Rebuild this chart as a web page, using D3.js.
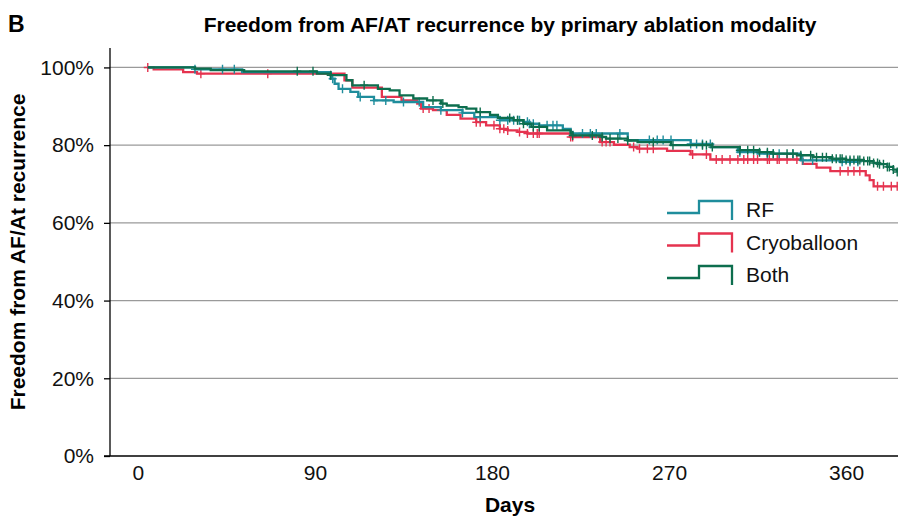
<!DOCTYPE html>
<html>
<head>
<meta charset="utf-8">
<script src="https://cdn.jsdelivr.net/npm/d3@7"></script>
<style>
  body { margin: 0; background: #fff; }
  svg { display: block; font-family: "Liberation Sans", Arial, sans-serif; }
</style>
</head>
<body>
<div id="chart"></div>
<script>
// step data: day of each drop and survival (%) after it
const rfDays = [5, 29, 53, 98, 100, 102, 108, 112, 120, 130, 145, 154, 165, 171, 184, 196, 199, 204, 216, 220, 221, 249, 281, 292, 305, 315, 337, 357]
const rfSurv = [100, 99.5, 98.8, 97.1, 95.8, 94.5, 93.7, 92.4, 91.5, 91.1, 89.8, 89.0, 88.3, 87.2, 86.4, 86.0, 85.5, 85.1, 84.2, 83.4, 83.0, 81.3, 80.3, 79.5, 78.2, 77.8, 76.1, 75.7]
const rfCensor = [29, 43, 49, 99, 104, 113, 120, 126, 135, 143, 154, 165, 174, 184, 188, 191, 193, 194, 198, 199, 201, 208, 211, 213, 226, 230, 233, 245, 260, 264, 267, 271, 281, 284, 287, 291, 306, 320, 323, 326, 333, 338, 343, 358, 362, 366]

const cryoDays = [5, 8, 23, 30, 105, 109, 124, 134, 142, 144, 150, 157, 164, 172, 177, 184, 188, 193, 198, 220, 235, 242, 250, 254, 269, 281, 291, 338, 345, 352, 370, 372, 374]
const cryoSurv = [100, 99.5, 98.8, 98.4, 96.7, 94.8, 92.4, 91.5, 90.7, 89.4, 89.0, 87.8, 86.8, 85.9, 85.1, 84.2, 83.8, 83.4, 83.0, 82.1, 80.8, 80.1, 79.5, 79.1, 78.5, 77.6, 76.3, 75.2, 74.2, 73.3, 72.2, 71.0, 69.4]
const cryoCensor = [5, 32, 66, 145, 148, 172, 174, 181, 184, 186, 188, 194, 198, 201, 203, 204, 220, 221, 236, 238, 240, 252, 255, 259, 262, 282, 289, 294, 297, 301, 305, 308, 310, 313, 315, 320, 321, 325, 326, 330, 335, 357, 361, 364, 367, 376, 379, 383, 386]

const bothDays = [5, 29, 37, 54, 91, 98, 106, 109, 122, 128, 133, 140, 147, 154, 157, 163, 167, 172, 179, 183, 191, 196, 200, 208, 220, 221, 236, 238, 249, 254, 271, 292, 306, 316, 323, 335, 343, 353, 360, 369, 374, 377, 381, 384, 386]
const bothSurv = [100, 99.7, 99.3, 99.0, 98.4, 98.0, 96.7, 95.4, 94.5, 94.1, 92.8, 92.0, 91.5, 90.7, 90.2, 89.8, 89.4, 88.5, 87.8, 87.0, 86.4, 85.5, 84.7, 83.8, 83.0, 82.5, 82.1, 81.7, 81.2, 80.8, 80.0, 79.5, 78.7, 78.2, 77.8, 77.4, 76.9, 76.5, 76.2, 75.9, 75.4, 75.1, 74.4, 73.7, 73.1]
const bothCensor = [81, 89, 98, 115, 150, 155, 174, 189, 193, 196, 201, 204, 221, 231, 236, 240, 244, 249, 262, 272, 287, 289, 292, 306, 310, 313, 316, 320, 323, 330, 333, 337, 342, 345, 348, 350, 353, 355, 357, 358, 360, 362, 364, 366, 367, 369, 371, 372, 374, 376, 377, 379, 381, 382, 384, 386]

const xTicks = [0, 90, 180, 270, 360]
const yTicks = [0, 20, 40, 60, 80, 100]
const legendNames = ['RF', 'Cryoballoon', 'Both']

const series = [
  { name: 'Cryoballoon', color: '#e5334f', days: cryoDays, surv: cryoSurv, censor: cryoCensor },
  { name: 'RF', color: '#1f8d9c', days: rfDays, surv: rfSurv, censor: rfCensor },
  { name: 'Both', color: '#0d6e4e', days: bothDays, surv: bothSurv, censor: bothCensor }
]

const width = 898, height = 516

const svg = d3.select('#chart').append('svg')
    .attr('width', width)
    .attr('height', height)

const x = d3.scaleLinear().domain([-14.2, 386.4]).range([110, 898])
const y = d3.scaleLinear().domain([0, 105]).range([456, 48])

// gridlines
svg.append('g')
  .selectAll('line')
  .data(yTicks.filter(d => d > 0))
  .enter().append('line')
    .attr('x1', x.range()[0]).attr('x2', x.range()[1])
    .attr('y1', d => y(d)).attr('y2', d => y(d))
    .attr('stroke', '#9a9a9a')
    .attr('stroke-width', 1.3)

// y axis
const yAxis = svg.append('g')
    .attr('transform', `translate(${x.range()[0]},0)`)
    .call(d3.axisLeft(y).tickValues(yTicks).tickSize(6).tickPadding(10).tickFormat(d => d + '%'))
yAxis.select('.domain').attr('d', `M0,${y(0)}V${y.range()[1]}`).attr('stroke-width', 1.3)
yAxis.selectAll('.tick line').attr('stroke-width', 1.3)
yAxis.selectAll('text').attr('font-size', 21).attr('fill', '#111').attr('font-family', 'Liberation Sans, Arial, sans-serif')

// x axis
const xAxis = svg.append('g')
    .attr('transform', `translate(0,${y(0)})`)
    .call(d3.axisBottom(x).tickValues(xTicks).tickSize(0).tickPadding(9))
xAxis.select('.domain').attr('d', `M${x.range()[0] - 6},0H${x.range()[1]}`).attr('stroke-width', 1.3)
xAxis.selectAll('text').attr('font-size', 21).attr('fill', '#111').attr('font-family', 'Liberation Sans, Arial, sans-serif')

const stepLine = d3.line()
    .x(d => x(d[0]))
    .y(d => y(d[1]))
    .curve(d3.curveStepAfter)

const survAt = (s, day) => {
  let v = s.surv[0]
  s.days.forEach((d, i) => { if (d <= day) v = s.surv[i] })
  return v
}

series.forEach(s => {
  const pts = s.days.map((d, i) => [d, s.surv[i]])
  const end = Math.max(d3.max(s.days), d3.max(s.censor))
  pts.push([end, s.surv[s.surv.length - 1]])

  svg.append('path')
      .datum(pts)
      .attr('fill', 'none')
      .attr('stroke', s.color)
      .attr('stroke-width', 2.3)
      .attr('d', stepLine)

  svg.append('g')
    .selectAll('path')
    .data(s.censor)
    .enter().append('path')
      .attr('fill', 'none')
      .attr('stroke', s.color)
      .attr('stroke-width', 1.4)
      .attr('d', d => {
        const cx = x(d), cy = y(survAt(s, d))
        return `M${cx - 4},${cy}H${cx + 4}M${cx},${cy - 4.5}V${cy + 4.5}`
      })
})

// legend
const legend = svg.append('g').attr('transform', 'translate(667,213)')
legendNames.forEach((name, i) => {
  const s = series.find(d => d.name === name)
  const g = legend.append('g').attr('transform', `translate(0,${i * 32.5})`)
  g.append('path')
      .attr('fill', 'none')
      .attr('stroke', s.color)
      .attr('stroke-width', 2.3)
      .attr('d', 'M0,0H32V-12H65V7')
  g.append('text')
      .attr('x', 79)
      .attr('y', 4)
      .attr('font-size', 21)
      .attr('fill', '#111')
      .text(name)
})

// titles
svg.append('text')
    .attr('x', 8).attr('y', 32)
    .attr('font-size', 23).attr('font-weight', 'bold')
    .text('B')

svg.append('text')
    .attr('x', 510).attr('y', 32)
    .attr('text-anchor', 'middle')
    .attr('font-size', 21).attr('font-weight', 'bold')
    .text('Freedom from AF/AT recurrence by primary ablation modality')

svg.append('text')
    .attr('transform', 'translate(25,252) rotate(-90)')
    .attr('text-anchor', 'middle')
    .attr('font-size', 21).attr('font-weight', 'bold')
    .text('Freedom from AF/At recurrence')

svg.append('text')
    .attr('x', 510).attr('y', 512)
    .attr('text-anchor', 'middle')
    .attr('font-size', 21).attr('font-weight', 'bold')
    .text('Days')
</script>
</body>
</html>
